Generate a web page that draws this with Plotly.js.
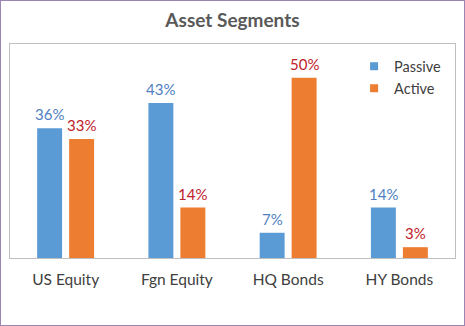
<!DOCTYPE html>
<html>
<head>
<meta charset="utf-8">
<script src="https://cdn.plot.ly/plotly-3.0.1.min.js"></script>
<style>
html,body{margin:0;padding:0;background:#fff;}
#chart{width:463px;height:324px;border:1px solid #9b86b3;}
</style>
</head>
<body>
<div id="chart"></div>
<script>
const categories = ["US Equity", "Fgn Equity", "HQ Bonds", "HY Bonds"];
const passive = [36, 43, 7, 14];
const active = [33, 14, 50, 3];
const seriesNames = ["Passive", "Active"];
const colors = ["#5b9bd5", "#ed7d31"];
const labelColors = ["#4f7fbf", "#c0202a"];

const fontFam = "Lato, 'Open Sans', sans-serif";
const series = [passive, active];
const traces = [];
series.forEach((vals, s) => {
  traces.push({type: "bar", name: seriesNames[s], x: categories, y: vals,
    marker: {color: colors[s]}, showlegend: false});
});
series.forEach((vals, s) => {
  traces.push({type: "scatter", mode: "markers", name: seriesNames[s], x: [null], y: [null],
    marker: {color: colors[s], symbol: "square", size: 8}, showlegend: true});
});
const annotations = [];
series.forEach((vals, s) => {
  vals.forEach((v, i) => {
    annotations.push({x: categories[i], y: v, xref: "x", yref: "y",
      text: v + "%", showarrow: false, xanchor: "center", yanchor: "bottom",
      xshift: s === 0 ? -16 : 16, yshift: 3,
      font: {size: 15, color: labelColors[s], family: fontFam}});
  });
});
const layout = {
  width: 463, height: 324,
  margin: {l: 9, r: 9, t: 43, b: 67},
  paper_bgcolor: "#fff", plot_bgcolor: "#fff",
  font: {family: fontFam, color: "#404040"},
  title: {text: "<b>Asset Segments</b>", x: 0.5, xanchor: "center", y: 0.94, yanchor: "middle",
          font: {size: 19, color: "#595959", family: fontFam}},
  bargap: 0.425, bargroupgap: 0.22, barmode: "group",
  showlegend: true,
  annotations: annotations,
  legend: {x: 0.98, xanchor: "right", y: 0.97, yanchor: "top", bgcolor: "rgba(0,0,0,0)",
           font: {size: 14.5, color: "#404040"}, itemwidth: 30, tracegroupgap: 0},
  xaxis: {showline: true, mirror: true, linecolor: "#bfbfbf", linewidth: 1,
          tickfont: {size: 15.5, color: "#404040"}, ticks: "", ticklabelstandoff: 7, fixedrange: true},
  yaxis: {range: [0, 59.4], showline: true, mirror: true, linecolor: "#bfbfbf",
          showgrid: false, showticklabels: false, zeroline: false, ticks: ""}
};
Plotly.newPlot("chart", traces, layout, {displayModeBar: false, staticPlot: true});
</script>
</body>
</html>
